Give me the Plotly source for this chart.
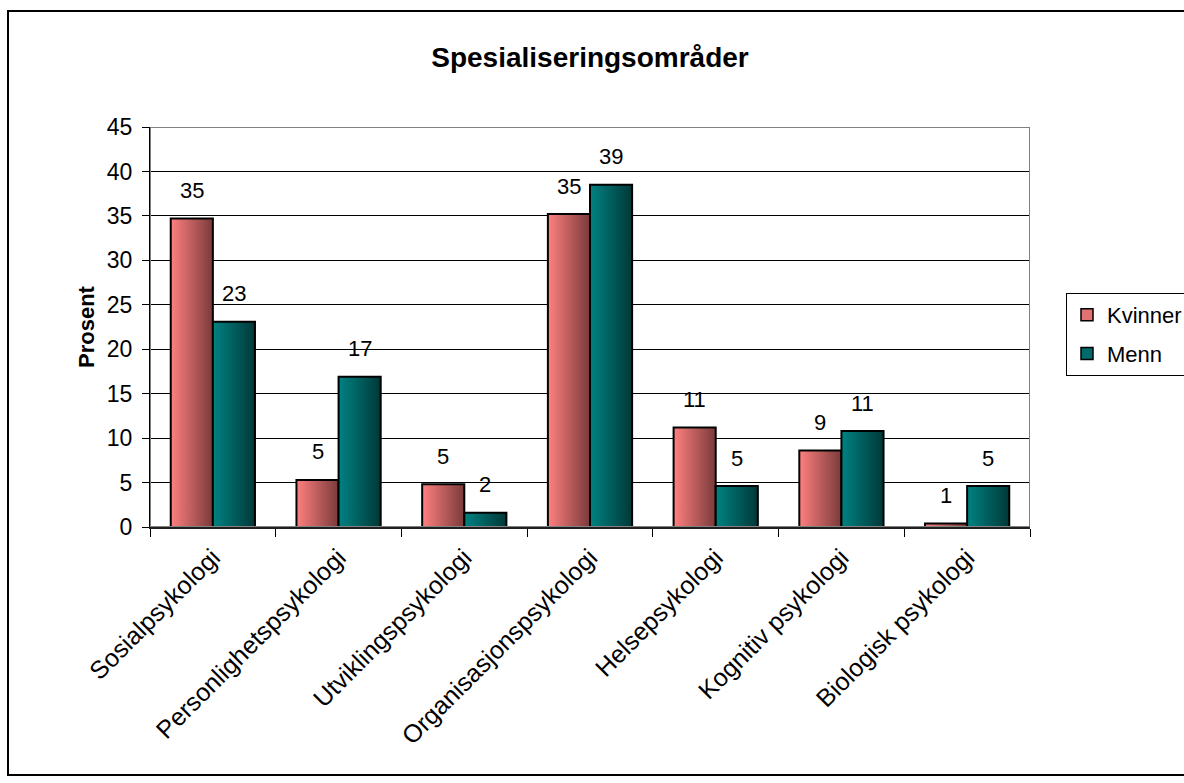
import plotly.graph_objects as go

categories = ["Sosialpsykologi", "Personlighetspsykologi", "Utviklingspsykologi",
              "Organisasjonspsykologi", "Helsepsykologi", "Kognitiv psykologi",
              "Biologisk psykologi"]
kvinner = [34.7, 5.3, 4.8, 35.2, 11.2, 8.6, 0.4]
menn = [23.1, 16.9, 1.6, 38.5, 4.6, 10.8, 4.6]
kvinner_labels = ["35", "5", "5", "35", "11", "9", "1"]
menn_labels = ["23", "17", "2", "39", "5", "11", "5"]
y_ticks = [0, 5, 10, 15, 20, 25, 30, 35, 40, 45]

FONT = "Liberation Sans, Arial, sans-serif"
W = 0.335  # bar width in category units

series = [
    ("Kvinner", kvinner, kvinner_labels, -1, [[0, "#FF8080"], [1, "#7A3A3A"]], "#E07272"),
    ("Menn", menn, menn_labels, 0, [[0, "#008282"], [1, "#003838"]], "#006A6A"),
]

fig = go.Figure()
annotations = []
for name, vals, labels, side, cs, solid in series:
    # legend entry
    fig.add_trace(go.Bar(x=[None], y=[None], name=name, legendgroup=name,
                         marker=dict(color=solid, line=dict(color="black", width=1.5))))
    for i, v in enumerate(vals):
        x0 = i + side * W
        x1 = x0 + W
        fig.add_trace(go.Scatter(
            x=[x0, x0, x1, x1, x0], y=[0, v, v, 0, 0],
            mode="lines", fill="toself",
            fillgradient=dict(type="horizontal", colorscale=cs),
            line=dict(color="black", width=2),
            name=name, legendgroup=name, showlegend=False,
            hoverinfo="text", text=f"{name} – {categories[i]}: {v}",
        ))
        annotations.append(dict(
            x=(x0 + x1) / 2, y=v, xref="x", yref="y", text=labels[i],
            showarrow=False, yshift=28, yanchor="middle",
            font=dict(family=FONT, size=22, color="black"),
        ))

pl, pr, pt, pb = 150, 1030, 127, 527
pw, ph = pr - pl, pb - pt

shapes = [
    dict(type="rect", xref="x", yref="y", x0=-0.5, x1=6.5, y0=0, y1=45,
         line=dict(color="#808080", width=2), layer="above"),
    dict(type="rect", xref="paper", yref="paper",
         x0=(8 - pl) / pw, x1=(1190 - pl) / pw,
         y0=(pb - 775) / ph, y1=(pb - 11) / ph,
         line=dict(color="black", width=2)),
]

fig.update_layout(
    width=1184, height=783,
    margin=dict(l=pl, r=1184 - pr, t=pt, b=783 - pb, autoexpand=False),
    paper_bgcolor="white", plot_bgcolor="white",
    font=dict(family=FONT, size=22, color="black"),
    title=dict(text="<b>Spesialiseringsområder</b>", x=(pl + pr) / 2 / 1184,
               xanchor="center", y=1 - 57 / 783, yanchor="middle",
               font=dict(family=FONT, size=28, color="black")),
    xaxis=dict(range=[-0.5, 6.5], tickvals=list(range(len(categories))),
               ticktext=categories, tickangle=-45, ticks="", showgrid=False,
               zeroline=False, showline=True, linecolor="#202020", linewidth=2,
               ticklabelstandoff=4,
               tickfont=dict(family=FONT, size=25),
               minor=dict(tickvals=[i - 0.5 for i in range(len(categories) + 1)],
                          ticks="outside", ticklen=8, tickcolor="black",
                          showgrid=False)),
    yaxis=dict(range=[0, 45], tickvals=y_ticks, ticks="outside", ticklen=7,
               tickcolor="black", showgrid=True, gridcolor="black", gridwidth=1,
               zeroline=False, showline=True, linecolor="black", linewidth=1,
               ticklabelstandoff=5,
               tickfont=dict(family=FONT, size=23),
               title=dict(text="<b>Prosent</b>", font=dict(family=FONT, size=22),
                          standoff=6)),
    legend=dict(x=(1066 - pl) / pw, y=(pb - 293) / ph, xanchor="left", yanchor="top",
                bordercolor="black", borderwidth=1, bgcolor="white",
                font=dict(family=FONT, size=22), traceorder="grouped",
                tracegroupgap=7),
    shapes=shapes,
    annotations=annotations,
)

fig.write_html("out.html", config={"displayModeBar": False},
               post_script="document.body.style.margin='0';")
